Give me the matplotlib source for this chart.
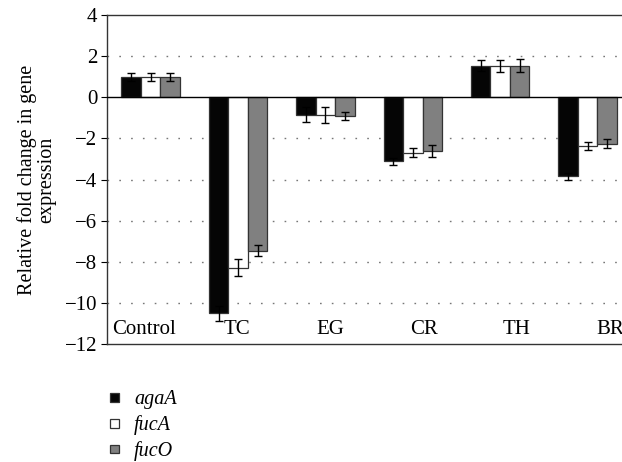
import matplotlib.pyplot as plt
import numpy as np

plt.rcParams['font.family'] = ['Liberation Serif', 'DejaVu Serif']

groups = ['Control', 'TC', 'EG', 'CR', 'TH', 'BR']
genes = ['agaA', 'fucA', 'fucO']

aga_a = [1.0, -10.5, -0.84, -3.12, 1.54, -3.85]
fuc_a = [1.0, -8.29, -0.87, -2.69, 1.52, -2.36]
fuc_o = [1.0, -7.46, -0.92, -2.62, 1.54, -2.25]

aga_a_err = [0.2, 0.36, 0.38, 0.18, 0.26, 0.18]
fuc_a_err = [0.2, 0.40, 0.40, 0.20, 0.30, 0.20]
fuc_o_err = [0.2, 0.28, 0.20, 0.30, 0.30, 0.20]

colors = ['#050505', '#ffffff', '#808080']

fig = plt.figure(figsize=(6.22, 4.62), dpi=100)
ax = fig.add_axes([0.172, 0.2554, 0.843, 0.7121])

x = np.arange(len(groups))
w = 0.223
series = [(aga_a, aga_a_err), (fuc_a, fuc_a_err), (fuc_o, fuc_o_err)]
handles = []
for k, (vals, errs) in enumerate(series):
    b = ax.bar(x + (k - 1) * w, vals, w, color=colors[k], edgecolor='#333333',
               linewidth=0.9, zorder=3, label=genes[k])
    ax.errorbar(x + (k - 1) * w, vals, yerr=errs, fmt='none', ecolor='black',
                elinewidth=1, capsize=3, capthick=1, zorder=4)
    handles.append(b)

ax.set_xlim(-0.5, len(groups) - 0.5)
ax.set_ylim(-12, 4)
ax.set_yticks(np.arange(-12, 5, 2))
ax.set_yticklabels([str(v).replace('-', '\u2212') for v in range(-12, 5, 2)])
ax.set_xticks([])
ax.tick_params(axis='y', labelsize=15, length=4, width=0.8, direction='out', pad=3)

# dotted gridlines, solid zero line
for yv in [2, -2, -4, -6, -8, -10]:
    ax.axhline(yv, color='#777777', linewidth=1.0, linestyle=(0, (1.2, 7.3)), zorder=1)
ax.axhline(0, color='black', linewidth=1.0, zorder=5)

for s in ['top', 'left', 'bottom']:
    ax.spines[s].set_color('#333333')
    ax.spines[s].set_linewidth(1.0)
ax.spines['right'].set_visible(False)

# group names sit inside the plot area, above the bottom spine
for i, name in enumerate(groups):
    ax.text(i * 1.068 - 0.08, -11.3, name, ha='center', va='center', fontsize=15)

ax.set_ylabel('Relative fold change in gene\nexpression', fontsize=14.5, labelpad=6,
              linespacing=1.0)

leg = fig.legend(handles=handles, labels=genes, loc='upper left',
                 bbox_to_anchor=(0.177, 0.155), frameon=False,
                 borderpad=0, borderaxespad=0,
                 handlelength=0.45, handleheight=0.3, handletextpad=0.75,
                 labelspacing=0.3, prop={'style': 'italic', 'size': 14.5})

fig.savefig('out.png', dpi=100)
